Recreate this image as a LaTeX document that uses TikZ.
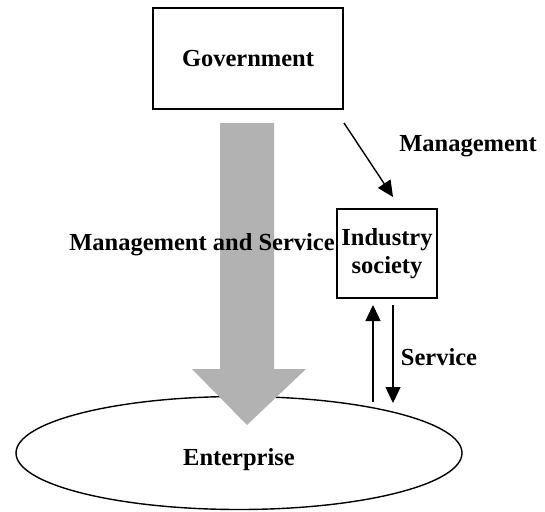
\documentclass[tikz,border=0pt]{standalone}
\usepackage{fontspec}
\setmainfont{Liberation Serif}
\usetikzlibrary{arrows.meta,shapes.geometric,calc}
\tikzset{
  lbl/.style={font=\fontsize{24.5}{27}\selectfont\bfseries, inner sep=0pt},
  boxnode/.style={draw, line width=1.7pt, inner sep=0pt, align=center},
  conn/.style={line width=1.4pt, -{Triangle[length=16pt,width=15pt]}},
}
\begin{document}
\begin{tikzpicture}[x=1pt,y=-1pt]
\useasboundingbox (0,0) rectangle (545,511);
% nodes
\node[boxnode, minimum width=190pt, minimum height=101pt] (gov) at (248,58.5) {};
\node[lbl] at (gov.center) {Government};
\node[boxnode, minimum width=100pt, minimum height=89pt] (ind) at (387,253.5) {};
\node[lbl, align=center] at (387,254) {Industry\\[1pt]society};
\node[draw, ellipse, line width=1.4pt, minimum width=446pt, minimum height=113pt, inner sep=0pt] (ent) at (239,453) {};
% big gray arrow
\fill[gray!60] (220,123) -- (274,123) -- (274,369) -- (306,369) -- (247,425) -- (192,369) -- (220,369) -- cycle;
\node[lbl] at (ent.center) [yshift=-7pt] {Enterprise};
% labels
\node[lbl] at (202,245) {Management and Service};
\node[lbl] at (468,146) {Management};
\node[lbl] at (439,357) {Service};
% connectors
\coordinate (m1) at (344,123);
\coordinate (m2) at (393,197);
\draw[conn] (m1) -- (m2);
\coordinate (u1) at (373,402);
\coordinate (u2) at (373,305);
\draw[conn] (u1) -- (u2);
\coordinate (d1) at (393,305);
\coordinate (d2) at (393,403);
\draw[conn] (d1) -- (d2);
\end{tikzpicture}
\end{document}
